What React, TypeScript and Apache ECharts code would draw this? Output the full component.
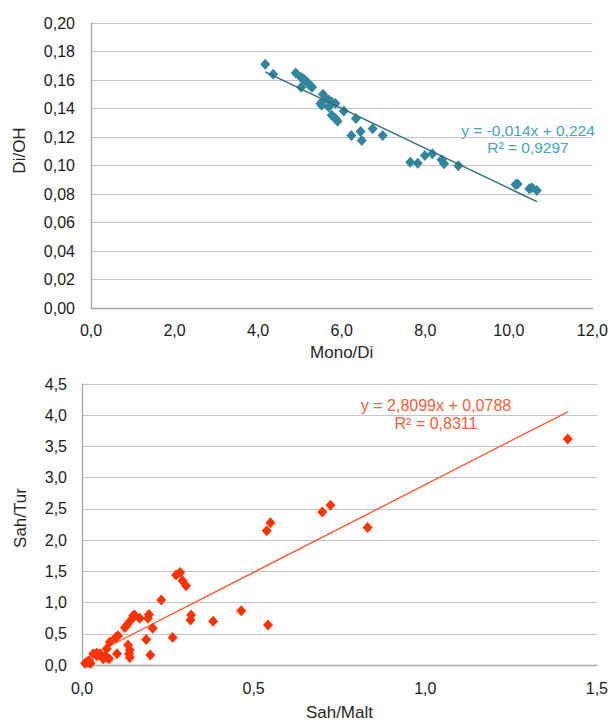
import React, { useEffect, useRef } from "react";
import * as echarts from "echarts";

// Top chart: Mono/Di vs Di/OH
const topX = [4.17, 4.36, 4.9, 5.02, 5.07, 5.12, 5.17, 5.21, 5.26, 5.29, 5.03, 5.55, 5.61, 5.69, 5.76, 5.85, 5.49, 5.52, 5.69, 5.76, 5.85, 5.9, 6.05, 6.34, 6.23, 6.45, 6.48, 6.74, 6.98, 7.64, 7.82, 7.99, 8.17, 8.39, 8.45, 8.79, 10.16, 10.21, 10.49, 10.55, 10.67];
const topY = [0.171, 0.164, 0.165, 0.162, 0.161, 0.16, 0.1585, 0.157, 0.1556, 0.155, 0.155, 0.15, 0.147, 0.146, 0.1446, 0.1435, 0.1435, 0.1423, 0.1411, 0.1352, 0.1329, 0.131, 0.1382, 0.1329, 0.1211, 0.1239, 0.1176, 0.1258, 0.1211, 0.1023, 0.1016, 0.107, 0.1082, 0.104, 0.1012, 0.0998, 0.0866, 0.0871, 0.0836, 0.0843, 0.0824];
const topSlope = -0.014;
const topIntercept = 0.224;
const topEq = ["y = -0,014x + 0,224", "R² = 0,9297"];

// Bottom chart: Sah/Malt vs Sah/Tur
const botX = [0.009, 0.018, 0.025, 0.021, 0.033, 0.043, 0.052, 0.044, 0.062, 0.072, 0.079, 0.067, 0.072, 0.081, 0.098, 0.105, 0.102, 0.125, 0.132, 0.134, 0.139, 0.137, 0.139, 0.144, 0.149, 0.153, 0.168, 0.192, 0.195, 0.187, 0.199, 0.206, 0.231, 0.264, 0.274, 0.286, 0.293, 0.303, 0.318, 0.316, 0.382, 0.464, 0.542, 0.538, 0.549, 0.7, 0.724, 0.832, 1.415];
const botY = [0.03, 0.04, 0.03, 0.07, 0.18, 0.19, 0.18, 0.15, 0.1, 0.12, 0.1, 0.15, 0.26, 0.37, 0.44, 0.47, 0.18, 0.6, 0.65, 0.32, 0.24, 0.18, 0.12, 0.73, 0.79, 0.8, 0.75, 0.75, 0.81, 0.41, 0.16, 0.59, 1.04, 0.44, 1.44, 1.48, 1.35, 1.27, 0.8, 0.72, 0.7, 0.87, 0.64, 2.15, 2.28, 2.45, 2.56, 2.2, 3.62];
const botSlope = 2.8099;
const botIntercept = 0.0788;
const botEq = ["y = 2,8099x + 0,0788", "R² = 0,8311"];

const FONT = "'Liberation Sans', Arial, sans-serif";
const fmt = (d: number) => (v: number) => v.toFixed(d).replace(".", ",");

function trend(xs: number[], a: number, b: number) {
  const lo = Math.min(...xs);
  const hi = Math.max(...xs);
  return [
    [lo, a * lo + b],
    [hi, a * hi + b],
  ];
}

const axisCommon = {
  axisLine: { show: true, lineStyle: { color: "#A6A6A6", width: 1.3 } },
  axisTick: { show: false },
  nameTextStyle: { fontFamily: FONT, fontSize: 17, color: "#262626" },
};

export default function App() {
  const ref = useRef<HTMLDivElement>(null);
  useEffect(() => {
    if (!ref.current) return;
    const chart = echarts.init(ref.current, null, { renderer: "svg" });
    const labelStyle = { fontFamily: FONT, fontSize: 16, color: "#1a1a1a" };
    chart.setOption({
      animation: false,
      backgroundColor: "#ffffff",
      grid: [
        { left: 91, top: 23, width: 504, height: 285 },
        { left: 82, top: 384, width: 518, height: 282 },
      ],
      xAxis: [
        {
          ...axisCommon,
          gridIndex: 0,
          type: "value",
          min: 0,
          max: 12,
          interval: 2,
          name: "Mono/Di",
          nameLocation: "middle",
          nameGap: 36,
          splitLine: { show: false },
          axisLabel: { ...labelStyle, margin: 14, formatter: fmt(1) },
        },
        {
          ...axisCommon,
          gridIndex: 1,
          type: "value",
          min: 0,
          max: 1.5,
          interval: 0.5,
          name: "Sah/Malt",
          nameLocation: "middle",
          nameGap: 39,
          splitLine: { show: false },
          axisLabel: { ...labelStyle, margin: 15, formatter: fmt(1) },
        },
      ],
      yAxis: [
        {
          ...axisCommon,
          gridIndex: 0,
          type: "value",
          min: 0,
          max: 0.2,
          interval: 0.02,
          name: "Di/OH",
          nameLocation: "middle",
          nameGap: 63,
          nameTextStyle: { ...axisCommon.nameTextStyle, padding: [0, 0, 0, 30] },
          splitLine: { show: true, lineStyle: { color: "#C4C4C4", width: 1.2 } },
          axisLabel: { ...labelStyle, margin: 16, formatter: fmt(2) },
        },
        {
          ...axisCommon,
          gridIndex: 1,
          type: "value",
          min: 0,
          max: 4.5,
          interval: 0.5,
          name: "Sah/Tur",
          nameLocation: "middle",
          nameGap: 53,
          nameTextStyle: { ...axisCommon.nameTextStyle, padding: [0, 0, 0, 13] },
          splitLine: { show: true, lineStyle: { color: "#C4C4C4", width: 1.2 } },
          axisLabel: { ...labelStyle, margin: 15, formatter: fmt(1) },
        },
      ],
      series: [
        {
          type: "scatter",
          xAxisIndex: 0,
          yAxisIndex: 0,
          symbol: "diamond",
          symbolSize: [10, 11],
          itemStyle: { color: "#31859C", opacity: 1 },
          data: topX.map((x, i) => [x, topY[i]]),
          z: 2,
        },
        {
          type: "line",
          xAxisIndex: 0,
          yAxisIndex: 0,
          showSymbol: false,
          symbol: "none",
          lineStyle: { color: "#2F6A78", width: 1.4 },
          data: trend(topX, topSlope, topIntercept),
          z: 3,
        },
        {
          type: "line",
          xAxisIndex: 1,
          yAxisIndex: 1,
          showSymbol: false,
          symbol: "none",
          lineStyle: { color: "#FF5A36", width: 1.4 },
          data: trend(botX, botSlope, botIntercept),
          z: 1,
        },
        {
          type: "scatter",
          xAxisIndex: 1,
          yAxisIndex: 1,
          symbol: "diamond",
          symbolSize: [10, 11],
          itemStyle: { color: "#FF3300", opacity: 1 },
          data: botX.map((x, i) => [x, botY[i]]),
          z: 2,
        },
      ],
      graphic: [
        {
          type: "text",
          x: 528,
          y: 130,
          style: { text: topEq[0], fill: "#45A3BD", font: `15.5px ${FONT}`, align: "center", verticalAlign: "middle" },
        },
        {
          type: "text",
          x: 528,
          y: 147,
          style: { text: topEq[1], fill: "#45A3BD", font: `15.5px ${FONT}`, align: "center", verticalAlign: "middle" },
        },
        {
          type: "text",
          x: 436,
          y: 405,
          style: { text: botEq[0], fill: "#F25C3C", font: `16px ${FONT}`, align: "center", verticalAlign: "middle" },
        },
        {
          type: "text",
          x: 436,
          y: 423,
          style: { text: botEq[1], fill: "#F25C3C", font: `16px ${FONT}`, align: "center", verticalAlign: "middle" },
        },
      ],
    });
    return () => chart.dispose();
  }, []);
  return (
    <div
      ref={ref}
      style={{ position: "absolute", left: 0, top: 0, width: 611, height: 722 }}
    />
  );
}
